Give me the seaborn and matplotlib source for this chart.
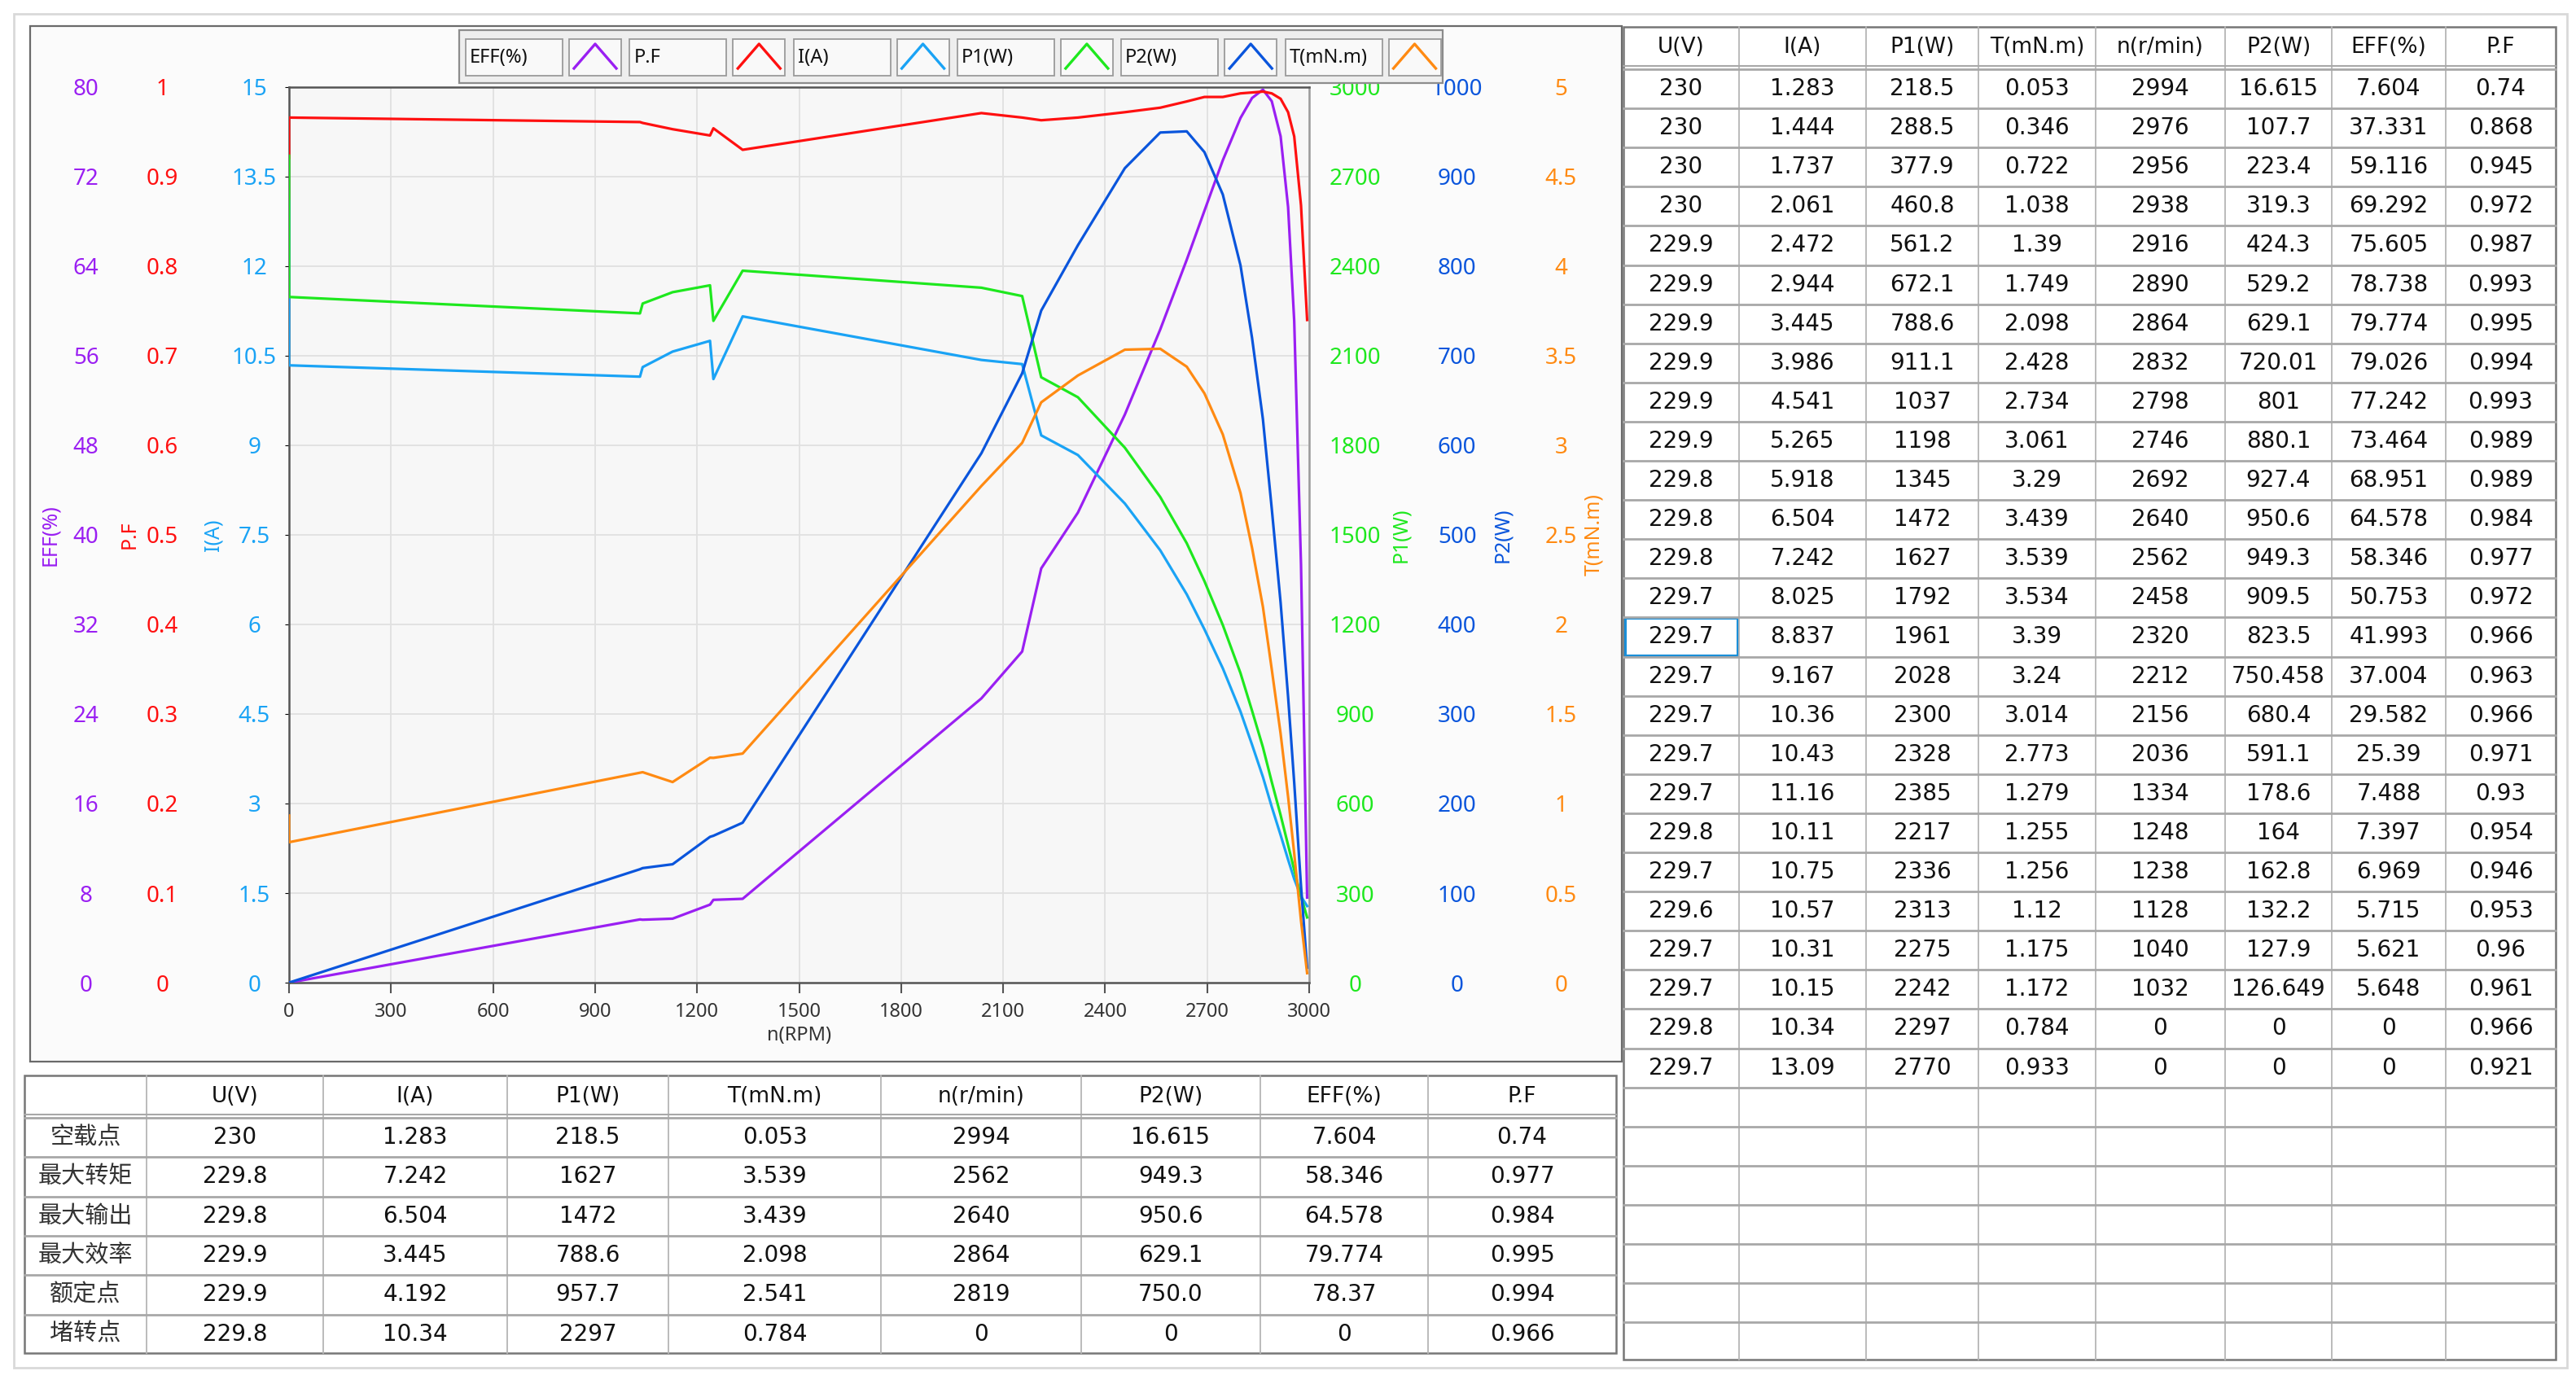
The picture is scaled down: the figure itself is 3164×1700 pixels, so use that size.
import numpy as np
import pandas as pd
import matplotlib
matplotlib.use('Agg')
import matplotlib.pyplot as plt
import seaborn as sns
from matplotlib.patches import Rectangle

# TEST DATA (one row per load point, as in the right-hand table)
u_v = [230, 230, 230, 230, 229.9, 229.9, 229.9, 229.9, 229.9, 229.9, 229.8, 229.8, 229.8,
       229.7, 229.7, 229.7, 229.7, 229.7, 229.7, 229.8, 229.7, 229.6, 229.7, 229.7, 229.8, 229.7]
i_a = [1.283, 1.444, 1.737, 2.061, 2.472, 2.944, 3.445, 3.986, 4.541, 5.265, 5.918, 6.504, 7.242,
       8.025, 8.837, 9.167, 10.36, 10.43, 11.16, 10.11, 10.75, 10.57, 10.31, 10.15, 10.34, 13.09]
p1_w = [218.5, 288.5, 377.9, 460.8, 561.2, 672.1, 788.6, 911.1, 1037, 1198, 1345, 1472, 1627,
        1792, 1961, 2028, 2300, 2328, 2385, 2217, 2336, 2313, 2275, 2242, 2297, 2770]
t_mnm = [0.053, 0.346, 0.722, 1.038, 1.39, 1.749, 2.098, 2.428, 2.734, 3.061, 3.29, 3.439, 3.539,
         3.534, 3.39, 3.24, 3.014, 2.773, 1.279, 1.255, 1.256, 1.12, 1.175, 1.172, 0.784, 0.933]
n_rpm = [2994, 2976, 2956, 2938, 2916, 2890, 2864, 2832, 2798, 2746, 2692, 2640, 2562,
         2458, 2320, 2212, 2156, 2036, 1334, 1248, 1238, 1128, 1040, 1032, 0, 0]
p2_w = [16.615, 107.7, 223.4, 319.3, 424.3, 529.2, 629.1, 720.01, 801, 880.1, 927.4, 950.6, 949.3,
        909.5, 823.5, 750.458, 680.4, 591.1, 178.6, 164, 162.8, 132.2, 127.9, 126.649, 0, 0]
eff = [7.604, 37.331, 59.116, 69.292, 75.605, 78.738, 79.774, 79.026, 77.242, 73.464, 68.951, 64.578,
       58.346, 50.753, 41.993, 37.004, 29.582, 25.39, 7.488, 7.397, 6.969, 5.715, 5.621, 5.648, 0, 0]
pf = [0.74, 0.868, 0.945, 0.972, 0.987, 0.993, 0.995, 0.994, 0.993, 0.989, 0.989, 0.984, 0.977,
      0.972, 0.966, 0.963, 0.966, 0.971, 0.93, 0.954, 0.946, 0.953, 0.96, 0.961, 0.966, 0.921]

# key points (bottom table)
point_names = ['空载点', '最大转矩', '最大输出', '最大效率', '额定点', '堵转点']
s_u = [230, 229.8, 229.8, 229.9, 229.9, 229.8]
s_i = [1.283, 7.242, 6.504, 3.445, 4.192, 10.34]
s_p1 = [218.5, 1627, 1472, 788.6, 957.7, 2297]
s_t = [0.053, 3.539, 3.439, 2.098, 2.541, 0.784]
s_n = [2994, 2562, 2640, 2864, 2819, 0]
s_p2 = [16.615, 949.3, 950.6, 629.1, 750.0, 0]
s_eff = [7.604, 58.346, 64.578, 79.774, 78.37, 0]
s_pf = [0.74, 0.977, 0.984, 0.995, 0.994, 0.966]

headers = ['U(V)', 'I(A)', 'P1(W)', 'T(mN.m)', 'n(r/min)', 'P2(W)', 'EFF(%)', 'P.F']

df = pd.DataFrame({'n': n_rpm, 'EFF': eff, 'PF': pf, 'I': i_a, 'P1': p1_w, 'P2': p2_w, 'T': t_mnm})

# curve settings: column, label, colour, axis max, side, tick pos, label pos (axes fraction)
curves = [
    ('EFF', 'EFF(%)', '#9a1ff2', 80, 'left', -0.199, -0.234),
    ('PF', 'P.F', '#ff1010', 1, 'left', -0.124, -0.156),
    ('I', 'I(A)', '#1aa3f5', 15, 'left', -0.034, -0.074),
    ('P1', 'P1(W)', '#1ee81e', 3000, 'right', 1.045, 1.090),
    ('P2', 'P2(W)', '#0a55dc', 1000, 'right', 1.145, 1.190),
    ('T', 'T(mN.m)', '#ff8a12', 5, 'right', 1.247, 1.279),
]

W, H = 3164, 1700
fig = plt.figure(figsize=(W / 100, H / 100), dpi=100)
fig.patch.set_facecolor('white')
chart_font = 'Noto Sans'
table_font = 'DejaVu Sans'
cjk = ['Noto Sans CJK SC', 'DejaVu Sans']


def fbox(x0, y0, x1, y1):
    return [x0 / W, 1 - y1 / H, (x1 - x0) / W, (y1 - y0) / H]


# background layer in pixel coordinates: frames and tables
bg = fig.add_axes([0, 0, 1, 1], zorder=0)
bg.set_xlim(0, W)
bg.set_ylim(H, 0)
bg.axis('off')
bg.add_patch(Rectangle((17, 17), 3136, 1663, fill=False, ec='#d9d9d9', lw=2))
bg.add_patch(Rectangle((37, 32), 1955, 1272, fc='#fbfbfb', ec='#6a6a6a', lw=1.6))

# main plot
host = fig.add_axes(fbox(355, 107, 1608, 1207), zorder=2)
host.set_facecolor('#f7f7f7')
host.set_ylim(0, 1)
host.set_yticks(np.linspace(0, 1, 11))
host.tick_params(axis='y', left=False, labelleft=False)
host.grid(True, color='#e0e0e0', lw=1.3)
for side in ['left', 'bottom', 'top']:
    host.spines[side].set_color('#555555')
    host.spines[side].set_linewidth(1.8)
host.spines['right'].set_color('#9a9a9a')
host.spines['right'].set_linewidth(1.8)

for k, (col, lab, color, ymax, side, tx, lx) in enumerate(curves):
    a = host.twinx()
    a.set_zorder(3 + k)
    a.patch.set_visible(False)
    sns.lineplot(data=df, x='n', y=col, ax=a, color=color, lw=2.3, sort=False, estimator=None)
    for s in a.spines.values():
        s.set_visible(False)
    if side == 'left':
        a.yaxis.tick_left()
        a.yaxis.set_label_position('left')
        a.spines['left'].set_position(('axes', tx))
    else:
        a.yaxis.tick_right()
        a.spines['right'].set_position(('axes', tx))
    a.set_ylim(0, ymax)
    ticks = np.linspace(0, ymax, 11)
    a.tick_params(axis='y', length=0, pad=0)
    a.set_yticks(ticks, [f'{v:g}' for v in np.round(ticks, 3)], ha='center',
                 color=color, fontsize=20, family=chart_font)
    a.set_ylabel(lab, color=color, fontsize=18, family=chart_font, rotation=90)
    a.yaxis.set_label_coords(lx, 0.5)
    a.yaxis.label.set_va('center')

host.set_xlim(0, 3000)
host.set_xticks(np.arange(0, 3001, 300))
host.tick_params(axis='x', direction='out', length=9, width=1.5, color='#555555',
                 labelsize=17, labelcolor='#333333', pad=8)
for t in host.get_xticklabels():
    t.set_family(chart_font)
host.set_xlabel('n(RPM)', fontsize=17, color='#333333', labelpad=4, family=chart_font)

# legend strip above the plot
lg = fig.add_axes(fbox(560, 34, 1776, 106), zorder=20)
lg.set_xlim(560, 1776)
lg.set_ylim(106, 34)
lg.axis('off')
lg.add_patch(Rectangle((564, 37), 1208, 65, fc='#eeeeee', ec='#8c8c8c', lw=1.6))
for k, (col, lab, color, *_rest) in enumerate(curves):
    x0 = 572 + k * 201.3
    lg.add_patch(Rectangle((x0, 48), 119, 45, fc='#f9f9f9', ec='#9a9a9a', lw=1.3))
    lg.text(x0 + 5, 71, lab, fontsize=17, va='center', ha='left', color='#111111', family=chart_font)
    cx = x0 + 127
    lg.add_patch(Rectangle((cx, 48), 64, 45, fc='#f9f9f9', ec='#9a9a9a', lw=1.3))
    lg.plot([cx + 6, cx + 32, cx + 58], [84, 54, 84], color=color, lw=2.4)


def fmt(v):
    return str(v)


# right table with all test points
rcols = [1994, 2136, 2292, 2430, 2574, 2733, 2864, 3004, 3139]
r_top, r_head, r_step, r_rows = 33, 83, 48.1, 33
r_bot = r_head + r_rows * r_step
bg.add_patch(Rectangle((rcols[0], r_top), rcols[-1] - rcols[0], r_bot - r_top, fc='white',
                       ec='#777777', lw=1.8))
for x in rcols[1:-1]:
    bg.plot([x, x], [r_top, r_bot], color='#b5b5b5', lw=1.3)
bg.plot([rcols[0], rcols[-1]], [r_head - 2, r_head - 2], color='#a8a8a8', lw=1.5)
for r in range(r_rows):
    y = r_head + 2 + r * r_step
    bg.plot([rcols[0], rcols[-1]], [y, y], color='#a8a8a8', lw=2)
for c, h in enumerate(headers):
    bg.text((rcols[c] + rcols[c + 1]) / 2, (r_top + r_head) / 2, h, ha='center', va='center',
            fontsize=19, family=table_font, color='#111111')
columns = [u_v, i_a, p1_w, t_mnm, n_rpm, p2_w, eff, pf]
for r in range(len(n_rpm)):
    yc = r_head + (r + 0.5) * r_step + 2
    for c, vals in enumerate(columns):
        bg.text((rcols[c] + rcols[c + 1]) / 2, yc, fmt(vals[r]), ha='center', va='center',
                fontsize=20, family=table_font, color='#111111')
sel = 14
bg.add_patch(Rectangle((rcols[0] + 2, r_head + 3 + sel * r_step), rcols[1] - rcols[0] - 4, r_step - 3,
                       fill=False, ec='#1a8fd8', lw=2.2))

# bottom table with key points
bcols = [30, 180, 397, 623, 821, 1082, 1328, 1548, 1754, 1985]
b_top, b_head, b_step = 1321, 1372, 48.3
b_bot = b_head + 6 * b_step
bg.add_patch(Rectangle((bcols[0], b_top), bcols[-1] - bcols[0], b_bot - b_top, fc='white',
                       ec='#777777', lw=1.8))
for x in bcols[1:-1]:
    bg.plot([x, x], [b_top, b_bot], color='#b5b5b5', lw=1.3)
bg.plot([bcols[0], bcols[-1]], [b_head - 3, b_head - 3], color='#a8a8a8', lw=1.5)
for r in range(6):
    y = b_head + 1 + r * b_step
    bg.plot([bcols[0], bcols[-1]], [y, y], color='#a8a8a8', lw=2)
for c, h in enumerate(headers):
    bg.text((bcols[c + 1] + bcols[c + 2]) / 2, (b_top + b_head) / 2, h, ha='center', va='center',
            fontsize=19, family=table_font, color='#111111')
s_columns = [s_u, s_i, s_p1, s_t, s_n, s_p2, s_eff, s_pf]
for r, name in enumerate(point_names):
    yc = b_head + (r + 0.5) * b_step + 1
    bg.text((bcols[0] + bcols[1]) / 2, yc, name, ha='center', va='center', fontsize=21,
            family=cjk, color='#333333')
    for c, vals in enumerate(s_columns):
        bg.text((bcols[c + 1] + bcols[c + 2]) / 2, yc, fmt(vals[r]), ha='center', va='center',
                fontsize=20, family=table_font, color='#111111')

fig.savefig('out.png', dpi=100, facecolor='white')
